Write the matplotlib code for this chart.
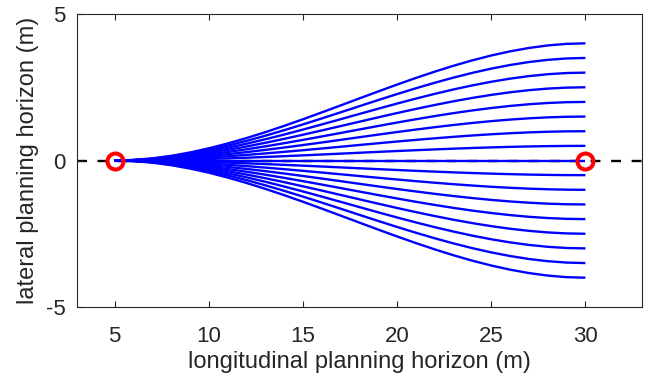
import matplotlib
matplotlib.use("Agg")
import matplotlib.pyplot as plt
import numpy as np

plt.rcParams['font.family'] = ['Liberation Sans', 'DejaVu Sans']
plt.rcParams['axes.unicode_minus'] = False

# longitudinal stations (m)
x_stations = [5, 6, 7, 8, 9, 10, 11, 12, 13, 14, 15, 16, 17, 18, 19, 20,
              21, 22, 23, 24, 25, 26, 27, 28, 29, 30]
# normalized lateral profile (fraction of final offset)
profile = [0.0, 0.0047, 0.0182, 0.0397, 0.0686, 0.104, 0.1452, 0.1913,
           0.2417, 0.2955, 0.352, 0.4104, 0.470, 0.530, 0.5896, 0.648,
           0.7045, 0.7583, 0.8087, 0.8549, 0.896, 0.9314, 0.9603, 0.9818,
           0.9953, 1.0]
# final lateral offsets of the candidate paths (m)
final_offsets = [-4.0, -3.5, -3.0, -2.5, -2.0, -1.5, -1.0, -0.5, 0.0,
                 0.5, 1.0, 1.5, 2.0, 2.5, 3.0, 3.5, 4.0]
# start / end points
marker_x = [5, 30]
marker_y = [0, 0]
ref_x = [3, 33]
ref_y = [0, 0]

fig = plt.figure(figsize=(6.51, 3.81), dpi=100)
ax = fig.add_axes([0.1183, 0.1942, 0.8677, 0.7690])

ax.plot(ref_x, ref_y, color='black', linestyle=(0, (4.2, 4.5)), linewidth=1.7, zorder=1)
xs = np.array(x_stations, dtype=float)
pf = np.array(profile)
for d in final_offsets:
    ax.plot(xs, d * pf, color='#0000ff', linewidth=1.7, solid_capstyle='butt', zorder=2)
ax.plot(marker_x, marker_y, linestyle='none', marker='o', markersize=11.5,
        markerfacecolor='none', markeredgecolor='#ff0000', markeredgewidth=2.9, zorder=3)

ax.set_xlim(3, 33)
ax.set_ylim(-5, 5)
ax.set_xticks([5, 10, 15, 20, 25, 30])
ax.set_yticks([-5, 0, 5])
ax.tick_params(direction='in', top=True, right=False, length=4, width=0.8,
               labelsize=16, colors='#262626')
ax.tick_params(axis='x', pad=13.5)
ax.tick_params(axis='y', pad=8)
for s in ax.spines.values():
    s.set_color('#262626')
    s.set_linewidth(0.8)
ax.set_xlabel('longitudinal planning horizon (m)', fontsize=17, color='#262626', labelpad=3)
ax.set_ylabel('lateral planning horizon (m)', fontsize=17, color='#262626', labelpad=5)

fig.savefig('out.png', dpi=100)
